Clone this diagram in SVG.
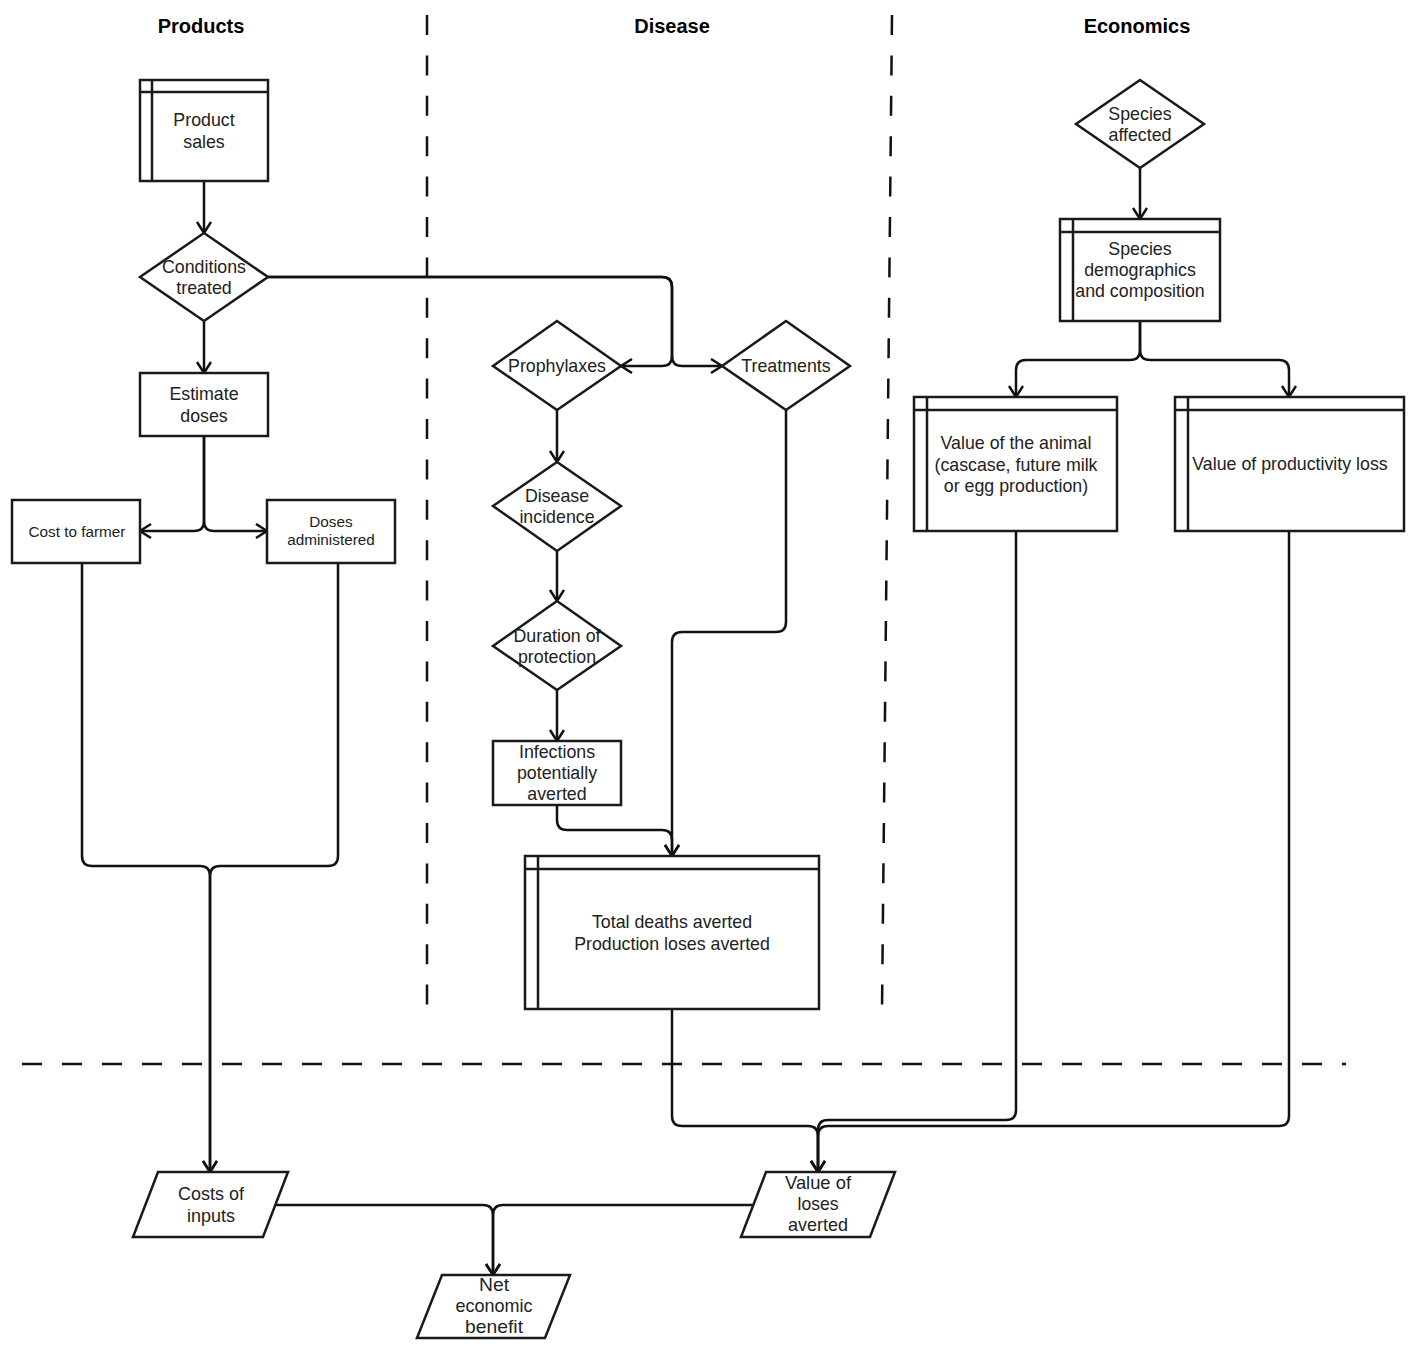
<svg xmlns="http://www.w3.org/2000/svg" width="1418" height="1346" viewBox="0 0 1418 1346">
<style>
.s{fill:#fff;stroke:#1a1a1a;stroke-width:2.5}
.in{fill:none;stroke:#1a1a1a;stroke-width:2.5}
.t{font-family:"Liberation Sans",Arial,sans-serif;font-size:17.8px;fill:#222;text-anchor:middle}
.sm{font-size:15.3px}
.h{font-family:"Liberation Sans",Arial,sans-serif;font-size:20px;font-weight:bold;fill:#000;text-anchor:middle}
.d{fill:none;stroke:#111;stroke-width:2.5;stroke-dasharray:20 20.4}
.dh{fill:none;stroke:#111;stroke-width:2.5;stroke-dasharray:20 20}
.c{fill:none;stroke:#111;stroke-width:2.5;marker-end:url(#a)}
</style>
<defs>
<marker id="a" markerUnits="userSpaceOnUse" markerWidth="16" markerHeight="18" refX="12" refY="8" orient="auto">
<path d="M1,1 L12,8 L1,15" fill="none" stroke="#111" stroke-width="2.5"/>
</marker>
</defs>
<rect width="1418" height="1346" fill="#fff"/>
<g id="separators">
<text class="h" x="201" y="33">Products</text>
<text class="h" x="672" y="33">Disease</text>
<text class="h" x="1137" y="33">Economics</text>
<line class="d" x1="427" y1="15" x2="427" y2="1013"/>
<line class="d" x1="892" y1="15" x2="882" y2="1010"/>
<line class="dh" x1="22" y1="1064" x2="1346" y2="1064"/>
</g>
<g id="connectors">
<path class="c" d="M204,181 V233"/>
<path class="c" d="M204,321 V373"/>
<path class="c" d="M204,436 V521 Q204,531 194,531 H140"/>
<path class="c" d="M204,436 V521 Q204,531 214,531 H267"/>
<path class="c" d="M268,277 H662 Q672,277 672,287 V356 Q672,366 662,366 H621"/>
<path class="c" d="M268,277 H662 Q672,277 672,287 V356 Q672,366 682,366 H722"/>
<path class="c" d="M557,410 V462"/>
<path class="c" d="M557,551 V601"/>
<path class="c" d="M557,690 V741"/>
<path class="c" d="M786,410 V622 Q786,632 776,632 H682 Q672,632 672,642 V856"/>
<path class="c" d="M557,805 V820 Q557,830 567,830 H662 Q672,830 672,840 V856"/>
<path class="c" d="M82,563 V856 Q82,866 92,866 H200 Q210,866 210,876 V1172"/>
<path class="c" d="M338,563 V856 Q338,866 328,866 H220 Q210,866 210,876 V1172"/>
<path class="c" d="M672,1009 V1116 Q672,1126 682,1126 H808 Q818,1126 818,1136 V1172"/>
<path class="c" d="M1016,531 V1110 Q1016,1120 1006,1120 H828 Q818,1120 818,1130 V1172"/>
<path class="c" d="M1289,531 V1116 Q1289,1126 1279,1126 H828 Q818,1126 818,1136 V1172"/>
<path class="c" d="M1140,168 V219"/>
<path class="c" d="M1140,321 V350 Q1140,360 1130,360 H1026 Q1016,360 1016,370 V397"/>
<path class="c" d="M1140,321 V350 Q1140,360 1150,360 H1279 Q1289,360 1289,370 V397"/>
<path class="c" d="M275,1205 H483 Q493,1205 493,1215 V1275"/>
<path class="c" d="M753,1205 H503 Q493,1205 493,1215 V1275"/>
</g>
<g id="product-sales">
<rect class="s" x="140" y="80" width="128" height="101"/>
<path class="in" d="M140,92 H268 M152,80 V181"/>
<text class="t" x="204" y="126">Product</text>
<text class="t" x="204" y="148">sales</text>
</g>
<g id="conditions-treated">
<polygon class="s" points="204,233 268,277 204,321 140,277"/>
<text class="t" x="204" y="273">Conditions</text>
<text class="t" x="204" y="294">treated</text>
</g>
<g id="estimate-doses">
<rect class="s" x="140" y="373" width="128" height="63"/>
<text class="t" x="204" y="400">Estimate</text>
<text class="t" x="204" y="422">doses</text>
</g>
<g id="cost-to-farmer">
<rect class="s" x="12" y="500" width="128" height="63"/>
<text class="t sm" x="77" y="537">Cost to farmer</text>
</g>
<g id="doses-administered">
<rect class="s" x="267" y="500" width="128" height="63"/>
<text class="t sm" x="331" y="527">Doses</text>
<text class="t sm" x="331" y="545">administered</text>
</g>
<g id="prophylaxes">
<polygon class="s" points="557,321 621,366 557,410 493,366"/>
<text class="t" x="557" y="372">Prophylaxes</text>
</g>
<g id="treatments">
<polygon class="s" points="786,321 850,366 786,410 722,366"/>
<text class="t" x="786" y="372">Treatments</text>
</g>
<g id="disease-incidence">
<polygon class="s" points="557,462 621,506 557,551 493,506"/>
<text class="t" x="557" y="502">Disease</text>
<text class="t" x="557" y="523">incidence</text>
</g>
<g id="duration-of-protection">
<polygon class="s" points="557,601 621,646 557,690 493,646"/>
<text class="t" x="557" y="642">Duration of</text>
<text class="t" x="557" y="663">protection</text>
</g>
<g id="infections-averted">
<rect class="s" x="493" y="741" width="128" height="64"/>
<text class="t" x="557" y="758">Infections</text>
<text class="t" x="557" y="779">potentially</text>
<text class="t" x="557" y="800">averted</text>
</g>
<g id="total-deaths-averted">
<rect class="s" x="525" y="856" width="294" height="153"/>
<path class="in" d="M525,869 H819 M538,856 V1009"/>
<text class="t" x="672" y="928">Total deaths averted</text>
<text class="t" x="672" y="950">Production loses averted</text>
</g>
<g id="species-affected">
<polygon class="s" points="1140,80 1204,124 1140,168 1076,124"/>
<text class="t" x="1140" y="120">Species</text>
<text class="t" x="1140" y="141">affected</text>
</g>
<g id="species-demographics">
<rect class="s" x="1060" y="219" width="160" height="102"/>
<path class="in" d="M1060,232 H1220 M1073,219 V321"/>
<text class="t" x="1140" y="255">Species</text>
<text class="t" x="1140" y="276">demographics</text>
<text class="t" x="1140" y="297">and composition</text>
</g>
<g id="value-of-animal">
<rect class="s" x="914" y="397" width="203" height="134"/>
<path class="in" d="M914,410 H1117 M927,397 V531"/>
<text class="t" x="1016" y="449">Value of the animal</text>
<text class="t" x="1016" y="471">(cascase, future milk</text>
<text class="t" x="1016" y="492">or egg production)</text>
</g>
<g id="value-of-productivity-loss">
<rect class="s" x="1175" y="397" width="229" height="134"/>
<path class="in" d="M1175,410 H1404 M1188,397 V531"/>
<text class="t" x="1290" y="470">Value of productivity loss</text>
</g>
<g id="costs-of-inputs">
<polygon class="s" points="158,1172 288,1172 263,1237 133,1237"/>
<text class="t" x="211" y="1200" textLength="66" lengthAdjust="spacingAndGlyphs">Costs of</text>
<text class="t" x="211" y="1222" textLength="48" lengthAdjust="spacingAndGlyphs">inputs</text>
</g>
<g id="value-of-loses-averted">
<polygon class="s" points="766,1172 895,1172 870,1237 741,1237"/>
<text class="t" x="818" y="1189" textLength="66" lengthAdjust="spacingAndGlyphs">Value of</text>
<text class="t" x="818" y="1210" textLength="41" lengthAdjust="spacingAndGlyphs">loses</text>
<text class="t" x="818" y="1231" textLength="60" lengthAdjust="spacingAndGlyphs">averted</text>
</g>
<g id="net-economic-benefit">
<polygon class="s" points="442,1275 570,1275 545,1338 417,1338"/>
<text class="t" x="494" y="1291" textLength="30" lengthAdjust="spacingAndGlyphs">Net</text>
<text class="t" x="494" y="1312" textLength="77" lengthAdjust="spacingAndGlyphs">economic</text>
<text class="t" x="494" y="1333" textLength="58" lengthAdjust="spacingAndGlyphs">benefit</text>
</g>
</svg>
